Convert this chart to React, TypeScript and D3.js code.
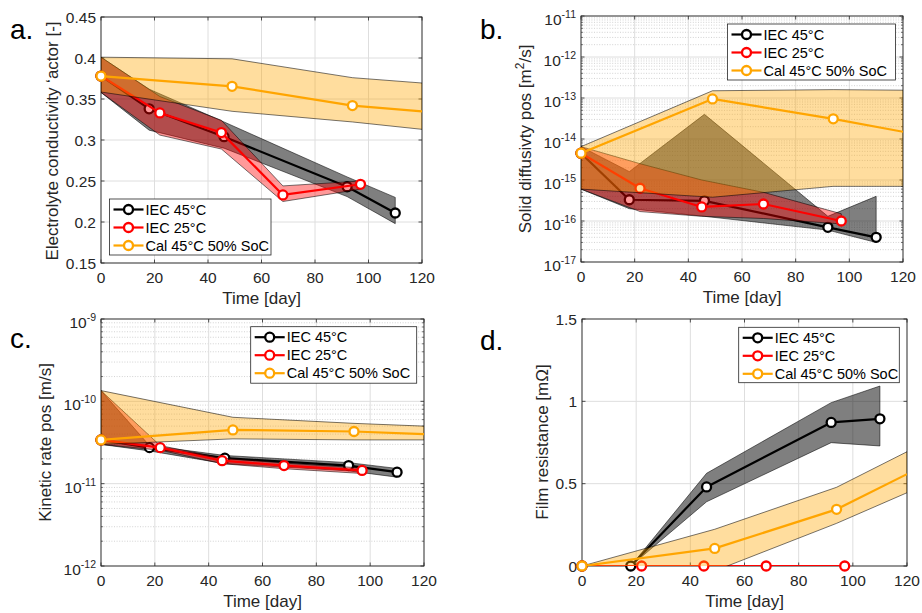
import React from 'react';
import * as d3 from 'd3';

const W = 922;
const H = 613;
const FONT = "'Liberation Sans', Arial, Helvetica, sans-serif";

// ---------------- data ----------------
const timeTicks = [0, 20, 40, 60, 80, 100, 120];
const seriesNames = ['IEC 45°C', 'IEC 25°C', 'Cal 45°C 50% SoC'];
const seriesColors = ['#000000', '#FF0000', '#FFA500'];
const bandOpacity = [0.5, 0.4, 0.38];

const iec45Days = [0, 18, 46, 92, 110];
const iec25Days = [0, 22, 45, 68, 97];
const calDays = [0, 49, 94, 120];

// a. Electrolyte conductivity factor
const aIEC45 = [0.378, 0.338, 0.304, 0.243, 0.211];
const aIEC45Hi = [0.401, 0.362, 0.322, 0.255, 0.23];
const aIEC45Lo = [0.358, 0.312, 0.29, 0.231, 0.198];
const aIEC25 = [0.378, 0.333, 0.309, 0.233, 0.246];
const aIEC25Hi = [0.401, 0.353, 0.324, 0.244, 0.25];
const aIEC25Lo = [0.358, 0.306, 0.289, 0.225, 0.24];
const aCal = [0.378, 0.3655, 0.342, 0.335];
const aCalHi = [0.401, 0.399, 0.376, 0.3695];
const aCalLo = [0.3585, 0.335, 0.322, 0.313];
const aYTicks = [0.15, 0.2, 0.25, 0.3, 0.35, 0.4, 0.45];

// b. Solid diffusivity pos
const bIEC45 = [4.5e-15, 3.3e-16, 3.1e-16, 7e-17, 4e-17];
const bIEC45Hi = [6.5e-15, 1.6e-15, 4e-14, 1.3e-16, 4e-16];
const bIEC45Lo = [6e-16, 2e-16, 1.3e-16, 6e-17, 3e-17];
const bIEC25 = [4.5e-15, 6.3e-16, 2.2e-16, 2.6e-16, 1e-16];
const bIEC25Hi = [6.5e-15, 2.5e-15, 1e-15, 5e-16, 1.5e-16];
const bIEC25Lo = [6e-16, 1.7e-16, 1.3e-16, 1.15e-16, 8.5e-17];
const bCal = [4.5e-15, 9.5e-14, 3.1e-14, 1.5e-14];
const bCalHi = [6.5e-15, 1.5e-13, 1.6e-13, 1.55e-13];
const bCalLo = [6e-16, 3.8e-16, 7e-16, 7e-16];
const bYExp = [-17, -16, -15, -14, -13, -12, -11];

// c. Kinetic rate pos
const cIEC45 = [3.4e-11, 2.74e-11, 2.04e-11, 1.66e-11, 1.38e-11];
const cIEC45Hi = [1.35e-10, 2.9e-11, 2.2e-11, 1.8e-11, 1.53e-11];
const cIEC45Lo = [3e-11, 2.5e-11, 1.75e-11, 1.43e-11, 1.2e-11];
const cIEC25 = [3.4e-11, 2.74e-11, 1.9e-11, 1.66e-11, 1.45e-11];
const cIEC25Hi = [1.35e-10, 2.9e-11, 2.05e-11, 1.78e-11, 1.55e-11];
const cIEC25Lo = [3e-11, 2.55e-11, 1.75e-11, 1.52e-11, 1.33e-11];
const cCal = [3.4e-11, 4.5e-11, 4.3e-11, 4.0e-11];
const cCalHi = [1.35e-10, 6.4e-11, 5.4e-11, 5e-11];
const cCalLo = [3e-11, 3.5e-11, 3.4e-11, 3.4e-11];
const cYExp = [-12, -11, -10, -9];

// d. Film resistance
const dIEC45 = [0, 0, 0.48, 0.872, 0.894];
const dIEC45Hi = [0, 0, 0.563, 0.992, 1.093];
const dIEC45Lo = [0, 0, 0.39, 0.749, 0.729];
const dIEC25 = [0, 0, 0, 0, 0];
const dIEC25Hi = [0, 0, 0, 0, 0];
const dIEC25Lo = [0, 0, 0, 0, 0];
const dCal = [0, 0.107, 0.344, 0.558];
const dCalHi = [0, 0.223, 0.478, 0.694];
const dCalLo = [0, -0.03, 0.259, 0.445];
const dYTicks = [0, 0.5, 1, 1.5];

// ---------------- layout ----------------
type Series = { days: number[]; val: number[]; hi: number[]; lo: number[] };
type PanelCfg = {
  key: string;
  tag: string;
  tagX: number;
  tagY: number;
  left: number;
  right: number;
  top: number;
  bottom: number;
  log: boolean;
  yDomain: [number, number];
  yTicks: number[];
  yTickLabel: (v: number) => any;
  yLabel: any;
  yLabelX: number;
  yLabelY: number;
  legend: { x: number; y: number; w: number; h: number };
  series: Series[];
};

const mk = (days: number[], val: number[], hi: number[], lo: number[]): Series => ({ days, val, hi, lo });

const linLabel = (v: number) => String(v);
const expLabel = (v: number) => {
  const e = Math.round(Math.log10(v));
  return (
    <>
      10<tspan dy={-7} fontSize={10.5}>{String(e)}</tspan>
    </>
  );
};

const panels: PanelCfg[] = [
  {
    key: 'a', tag: 'a.', tagX: 10, tagY: 38.5,
    left: 101, right: 422, top: 17, bottom: 263,
    log: false, yDomain: [0.15, 0.45], yTicks: aYTicks, yTickLabel: linLabel,
    yLabel: <>Electrolyte conductivity &#8216;actor [-]</>, yLabelX: 58, yLabelY: 141,
    legend: { x: 109.5, y: 199, w: 161.5, h: 56 },
    series: [
      mk(iec45Days, aIEC45, aIEC45Hi, aIEC45Lo),
      mk(iec25Days, aIEC25, aIEC25Hi, aIEC25Lo),
      mk(calDays, aCal, aCalHi, aCalLo),
    ],
  },
  {
    key: 'b', tag: 'b.', tagX: 480, tagY: 38.5,
    left: 581, right: 903, top: 16, bottom: 262,
    log: true, yDomain: [1e-17, 1e-11], yTicks: bYExp.map((e) => Math.pow(10, e)), yTickLabel: expLabel,
    yLabel: <>Solid diffusivty pos [m<tspan dy={-7} fontSize={12}>2</tspan><tspan dy={7}>/s]</tspan></>,
    yLabelX: 531, yLabelY: 139,
    legend: { x: 727.5, y: 24, w: 168, h: 56 },
    series: [
      mk(iec45Days, bIEC45, bIEC45Hi, bIEC45Lo),
      mk(iec25Days, bIEC25, bIEC25Hi, bIEC25Lo),
      mk(calDays, bCal, bCalHi, bCalLo),
    ],
  },
  {
    key: 'c', tag: 'c.', tagX: 10, tagY: 348,
    left: 101, right: 424, top: 319, bottom: 566,
    log: true, yDomain: [1e-12, 1e-9], yTicks: cYExp.map((e) => Math.pow(10, e)), yTickLabel: expLabel,
    yLabel: <>Kinetic rate pos [m/s]</>, yLabelX: 51, yLabelY: 442.5,
    legend: { x: 250.7, y: 326.7, w: 166, h: 56.5 },
    series: [
      mk(iec45Days, cIEC45, cIEC45Hi, cIEC45Lo),
      mk(iec25Days, cIEC25, cIEC25Hi, cIEC25Lo),
      mk(calDays, cCal, cCalHi, cCalLo),
    ],
  },
  {
    key: 'd', tag: 'd.', tagX: 480, tagY: 350,
    left: 582, right: 907, top: 319, bottom: 566,
    log: false, yDomain: [0, 1.5], yTicks: dYTicks, yTickLabel: linLabel,
    yLabel: <>Film resistance [m&#937;]</>, yLabelX: 547.5, yLabelY: 442,
    legend: { x: 738.7, y: 327.3, w: 160.6, h: 55.4 },
    series: [
      mk(iec45Days, dIEC45, dIEC45Hi, dIEC45Lo),
      mk(iec25Days, dIEC25, dIEC25Hi, dIEC25Lo),
      mk(calDays, dCal, dCalHi, dCalLo),
    ],
  },
];

const AXIS = '#262626';
const MR = 4.5;
const MSW = 2.3;

function Panel({ p }: { p: PanelCfg }) {
  const x = d3.scaleLinear().domain([0, 120]).range([p.left, p.right]);
  const y = p.log
    ? d3.scaleLog().domain(p.yDomain).range([p.bottom, p.top])
    : d3.scaleLinear().domain(p.yDomain).range([p.bottom, p.top]);

  const minor: number[] = [];
  if (p.log) {
    for (let i = 0; i < p.yTicks.length - 1; i++) {
      for (let k = 2; k <= 9; k++) minor.push(p.yTicks[i] * k);
    }
  }
  const clipId = `clip-${p.key}`;
  const tickLen = 3.5;

  return (
    <g>
      <defs>
        <clipPath id={clipId}>
          <rect x={p.left} y={p.top} width={p.right - p.left} height={p.bottom - p.top} />
        </clipPath>
      </defs>
      <rect x={p.left} y={p.top} width={p.right - p.left} height={p.bottom - p.top} fill="#fff" />
      {minor.map((v, i) => (
        <line key={'mg' + i} x1={p.left} x2={p.right} y1={y(v)} y2={y(v)}
          stroke="#c8c8c8" strokeWidth={0.8} strokeDasharray="1,1.6" />
      ))}
      {timeTicks.map((t) => (
        <line key={'gx' + t} x1={x(t)} x2={x(t)} y1={p.top} y2={p.bottom} stroke="#dedede" strokeWidth={1} />
      ))}
      {p.yTicks.map((v, i) => (
        <line key={'gy' + i} x1={p.left} x2={p.right} y1={y(v)} y2={y(v)} stroke="#dedede" strokeWidth={1} />
      ))}
      <rect x={p.left} y={p.top} width={p.right - p.left} height={p.bottom - p.top} fill="none" stroke={AXIS} strokeWidth={0.9} />
      {timeTicks.map((t) => (
        <g key={'tx' + t}>
          <line x1={x(t)} x2={x(t)} y1={p.bottom} y2={p.bottom - tickLen} stroke={AXIS} strokeWidth={0.8} />
          <line x1={x(t)} x2={x(t)} y1={p.top} y2={p.top + tickLen} stroke={AXIS} strokeWidth={0.8} />
          <text x={x(t)} y={p.bottom + 20} textAnchor="middle" fontSize={15.5} fill={AXIS}>{String(t)}</text>
        </g>
      ))}
      {p.yTicks.map((v, i) => (
        <g key={'ty' + i}>
          <line x1={p.left} x2={p.left + tickLen} y1={y(v)} y2={y(v)} stroke={AXIS} strokeWidth={0.8} />
          <line x1={p.right} x2={p.right - tickLen} y1={y(v)} y2={y(v)} stroke={AXIS} strokeWidth={0.8} />
          <text x={p.left - 5} y={y(v) + (p.log ? 9 : 5.5)} textAnchor="end" fontSize={15.5} fill={AXIS}>
            {p.yTickLabel(v)}
          </text>
        </g>
      ))}
      {minor.map((v, i) => (
        <g key={'mt' + i}>
          <line x1={p.left} x2={p.left + 2} y1={y(v)} y2={y(v)} stroke={AXIS} strokeWidth={0.6} />
          <line x1={p.right} x2={p.right - 2} y1={y(v)} y2={y(v)} stroke={AXIS} strokeWidth={0.6} />
        </g>
      ))}
      {p.series.map((s, si) => {
        const idx = s.days.map((_, i) => i);
        const area = d3.area<number>()
          .x((i) => x(s.days[i]))
          .y0((i) => y(s.lo[i]))
          .y1((i) => y(s.hi[i]));
        const line = d3.line<number>()
          .x((i) => x(s.days[i]))
          .y((i) => y(s.val[i]));
        const c = seriesColors[si];
        return (
          <g key={'s' + si}>
            <g clipPath={`url(#${clipId})`}>
              <path d={area(idx) || ''} fill={c} fillOpacity={bandOpacity[si]} stroke="#000" strokeWidth={0.6} strokeOpacity={0.9} />
              <path d={line(idx) || ''} fill="none" stroke={c} strokeWidth={2.2} strokeLinejoin="round" />
            </g>
            {idx.filter((i) => s.days[i] < 120).map((i) => (
              <circle key={i} cx={x(s.days[i])} cy={y(s.val[i])} r={MR} fill="#fff" stroke={c} strokeWidth={MSW} />
            ))}
          </g>
        );
      })}
      <text x={(p.left + p.right) / 2} y={p.bottom + 41} textAnchor="middle" fontSize={17} fill={AXIS}>Time [day]</text>
      <text transform={`translate(${p.yLabelX},${p.yLabelY}) rotate(-90)`} textAnchor="middle" fontSize={17} fill={AXIS}>
        {p.yLabel}
      </text>
      <text x={p.tagX} y={p.tagY} fontSize={28} fill="#000">{p.tag}</text>
      <g>
        <rect x={p.legend.x} y={p.legend.y} width={p.legend.w} height={p.legend.h} fill="#fff" stroke={AXIS} strokeWidth={0.8} />
        {seriesNames.map((n, i) => {
          const cy = p.legend.y + 10.5 + i * 18;
          const c = seriesColors[i];
          return (
            <g key={'lg' + i}>
              <line x1={p.legend.x + 4} x2={p.legend.x + 34} y1={cy} y2={cy} stroke={c} strokeWidth={2.2} />
              <circle cx={p.legend.x + 19} cy={cy} r={MR} fill="#fff" stroke={c} strokeWidth={MSW} />
              <text x={p.legend.x + 36} y={cy + 5.2} fontSize={14.5} fill="#000">{n}</text>
            </g>
          );
        })}
      </g>
    </g>
  );
}

export default function App() {
  return (
    <svg width={W} height={H} viewBox={`0 0 ${W} ${H}`} fontFamily={FONT}
      style={{ position: 'absolute', left: 0, top: 0, background: '#fff' }}>
      <rect x={0} y={0} width={W} height={H} fill="#fff" />
      {panels.map((p) => <Panel key={p.key} p={p} />)}
    </svg>
  );
}
